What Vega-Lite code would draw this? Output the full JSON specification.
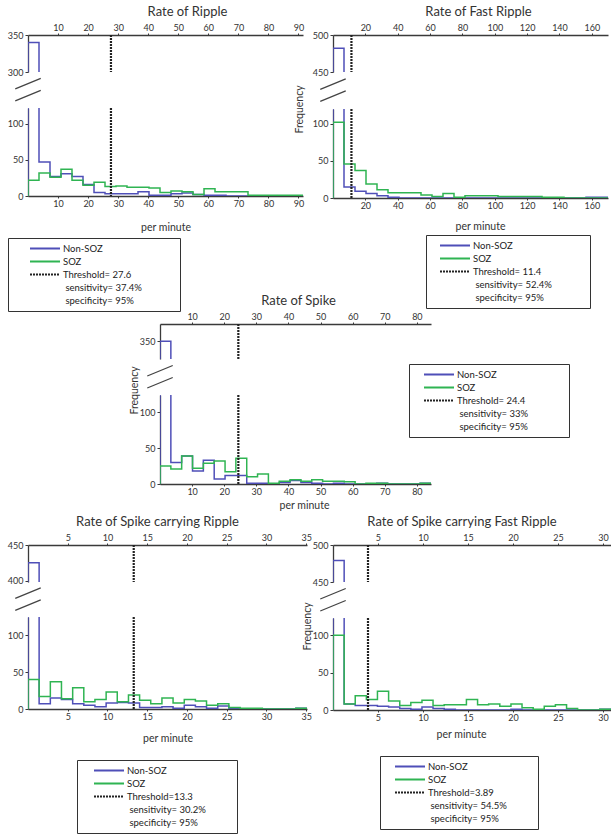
{
"$schema": "https://vega.github.io/schema/vega-lite/v6.json",
"padding": {"left": 7, "top": 6, "right": 0, "bottom": 0},
"config": {
 "view": {"stroke": null},
 "font": "Lato",
 "axis": {"domainColor": "#3a3a3a", "domainWidth": 1.3, "tickColor": "#3a3a3a", "tickSize": 3, "labelFontSize": 9, "labelColor": "#333", "labelPadding": 2, "labelOverlap": false, "labelFlush": false, "titleFontSize": 10.5, "titleFontWeight": "normal", "titleColor": "#333", "grid": false},
 "axisX": {"tickSize": 2, "labelPadding": 1},
 "title": {"fontSize": 13, "fontWeight": "normal", "color": "#333", "offset": 4},
 "legend": {"symbolType": "stroke", "symbolSize": 900, "symbolStrokeWidth": 2, "clipHeight": 13, "rowPadding": 0, "padding": 4, "strokeColor": "#333", "fillColor": "white", "labelFontSize": 9.5, "labelColor": "#222", "labelOffset": 2}
},
"datasets": {
 "A": [
  {"s":"Non-SOZ","x":0,"n":0},{"s":"Non-SOZ","x":0,"n":340},{"s":"Non-SOZ","x":3.66,"n":47},{"s":"Non-SOZ","x":7.32,"n":27},{"s":"Non-SOZ","x":10.98,"n":31},{"s":"Non-SOZ","x":14.64,"n":27},{"s":"Non-SOZ","x":18.3,"n":16},{"s":"Non-SOZ","x":21.96,"n":5},{"s":"Non-SOZ","x":25.62,"n":3},{"s":"Non-SOZ","x":29.28,"n":3},{"s":"Non-SOZ","x":32.94,"n":3},{"s":"Non-SOZ","x":36.6,"n":6},{"s":"Non-SOZ","x":40.26,"n":1},{"s":"Non-SOZ","x":43.92,"n":1},{"s":"Non-SOZ","x":47.58,"n":3},{"s":"Non-SOZ","x":51.24,"n":4},{"s":"Non-SOZ","x":54.9,"n":2},{"s":"Non-SOZ","x":58.56,"n":1},{"s":"Non-SOZ","x":62.22,"n":1},{"s":"Non-SOZ","x":65.88,"n":0},{"s":"Non-SOZ","x":69.54,"n":0},{"s":"Non-SOZ","x":73.2,"n":0},{"s":"Non-SOZ","x":76.86,"n":0},{"s":"Non-SOZ","x":80.52,"n":0},{"s":"Non-SOZ","x":84.18,"n":0},{"s":"Non-SOZ","x":87.84,"n":0},{"s":"Non-SOZ","x":91.5,"n":0},
  {"s":"SOZ","x":0,"n":0},{"s":"SOZ","x":0,"n":22},{"s":"SOZ","x":3.66,"n":32},{"s":"SOZ","x":7.32,"n":26},{"s":"SOZ","x":10.98,"n":37},{"s":"SOZ","x":14.64,"n":22},{"s":"SOZ","x":18.3,"n":15},{"s":"SOZ","x":21.96,"n":19},{"s":"SOZ","x":25.62,"n":13},{"s":"SOZ","x":29.28,"n":14},{"s":"SOZ","x":32.94,"n":12},{"s":"SOZ","x":36.6,"n":12},{"s":"SOZ","x":40.26,"n":11},{"s":"SOZ","x":43.92,"n":5},{"s":"SOZ","x":47.58,"n":7},{"s":"SOZ","x":51.24,"n":6},{"s":"SOZ","x":54.9,"n":2},{"s":"SOZ","x":58.56,"n":10},{"s":"SOZ","x":62.22,"n":6},{"s":"SOZ","x":65.88,"n":6},{"s":"SOZ","x":69.54,"n":6},{"s":"SOZ","x":73.2,"n":1},{"s":"SOZ","x":76.86,"n":1},{"s":"SOZ","x":80.52,"n":1},{"s":"SOZ","x":84.18,"n":1},{"s":"SOZ","x":87.84,"n":1},{"s":"SOZ","x":91.5,"n":1}
 ],
 "B": [
  {"s":"Non-SOZ","x":0,"n":0},{"s":"Non-SOZ","x":0,"n":482},{"s":"Non-SOZ","x":6.8,"n":15},{"s":"Non-SOZ","x":13.6,"n":9},{"s":"Non-SOZ","x":20.4,"n":6},{"s":"Non-SOZ","x":27.2,"n":3},{"s":"Non-SOZ","x":34,"n":1},{"s":"Non-SOZ","x":40.8,"n":0},{"s":"Non-SOZ","x":47.6,"n":0},{"s":"Non-SOZ","x":54.4,"n":0},{"s":"Non-SOZ","x":61.2,"n":0},{"s":"Non-SOZ","x":68,"n":0},{"s":"Non-SOZ","x":74.8,"n":0},{"s":"Non-SOZ","x":81.6,"n":0},{"s":"Non-SOZ","x":88.4,"n":0},{"s":"Non-SOZ","x":95.2,"n":0},{"s":"Non-SOZ","x":102,"n":0},{"s":"Non-SOZ","x":108.8,"n":0},{"s":"Non-SOZ","x":115.6,"n":0},{"s":"Non-SOZ","x":122.4,"n":0},{"s":"Non-SOZ","x":129.2,"n":0},{"s":"Non-SOZ","x":136,"n":0},{"s":"Non-SOZ","x":142.8,"n":0},{"s":"Non-SOZ","x":149.6,"n":0},{"s":"Non-SOZ","x":156.4,"n":1},{"s":"Non-SOZ","x":163.2,"n":1},{"s":"Non-SOZ","x":170,"n":1},
  {"s":"SOZ","x":0,"n":0},{"s":"SOZ","x":0,"n":102},{"s":"SOZ","x":6.8,"n":46},{"s":"SOZ","x":13.6,"n":37},{"s":"SOZ","x":20.4,"n":19},{"s":"SOZ","x":27.2,"n":11},{"s":"SOZ","x":34,"n":7},{"s":"SOZ","x":40.8,"n":7},{"s":"SOZ","x":47.6,"n":7},{"s":"SOZ","x":54.4,"n":4},{"s":"SOZ","x":61.2,"n":2},{"s":"SOZ","x":68,"n":6},{"s":"SOZ","x":74.8,"n":1},{"s":"SOZ","x":81.6,"n":3},{"s":"SOZ","x":88.4,"n":3},{"s":"SOZ","x":95.2,"n":3},{"s":"SOZ","x":102,"n":2},{"s":"SOZ","x":108.8,"n":2},{"s":"SOZ","x":115.6,"n":2},{"s":"SOZ","x":122.4,"n":2},{"s":"SOZ","x":129.2,"n":1},{"s":"SOZ","x":136,"n":1},{"s":"SOZ","x":142.8,"n":0},{"s":"SOZ","x":149.6,"n":0},{"s":"SOZ","x":156.4,"n":0},{"s":"SOZ","x":163.2,"n":0},{"s":"SOZ","x":170,"n":0}
 ],
 "C": [
  {"s":"Non-SOZ","x":0,"n":0},{"s":"Non-SOZ","x":0,"n":350},{"s":"Non-SOZ","x":3.38,"n":30},{"s":"Non-SOZ","x":6.75,"n":39},{"s":"Non-SOZ","x":10.13,"n":18},{"s":"Non-SOZ","x":13.5,"n":33},{"s":"Non-SOZ","x":16.88,"n":7},{"s":"Non-SOZ","x":20.26,"n":12},{"s":"Non-SOZ","x":23.63,"n":12},{"s":"Non-SOZ","x":27.01,"n":1},{"s":"Non-SOZ","x":30.38,"n":1},{"s":"Non-SOZ","x":33.76,"n":0},{"s":"Non-SOZ","x":37.14,"n":2},{"s":"Non-SOZ","x":40.51,"n":5},{"s":"Non-SOZ","x":43.89,"n":2},{"s":"Non-SOZ","x":47.26,"n":1},{"s":"Non-SOZ","x":50.64,"n":0},{"s":"Non-SOZ","x":54.02,"n":1},{"s":"Non-SOZ","x":57.39,"n":0},{"s":"Non-SOZ","x":60.77,"n":0},{"s":"Non-SOZ","x":64.14,"n":0},{"s":"Non-SOZ","x":67.52,"n":1},{"s":"Non-SOZ","x":70.9,"n":0},{"s":"Non-SOZ","x":74.27,"n":0},{"s":"Non-SOZ","x":77.65,"n":0},{"s":"Non-SOZ","x":81.02,"n":1},{"s":"Non-SOZ","x":84.4,"n":1},
  {"s":"SOZ","x":0,"n":0},{"s":"SOZ","x":0,"n":25},{"s":"SOZ","x":3.38,"n":21},{"s":"SOZ","x":6.75,"n":39},{"s":"SOZ","x":10.13,"n":22},{"s":"SOZ","x":13.5,"n":29},{"s":"SOZ","x":16.88,"n":32},{"s":"SOZ","x":20.26,"n":17},{"s":"SOZ","x":23.63,"n":36},{"s":"SOZ","x":27.01,"n":10},{"s":"SOZ","x":30.38,"n":14},{"s":"SOZ","x":33.76,"n":1},{"s":"SOZ","x":37.14,"n":4},{"s":"SOZ","x":40.51,"n":6},{"s":"SOZ","x":43.89,"n":4},{"s":"SOZ","x":47.26,"n":6},{"s":"SOZ","x":50.64,"n":4},{"s":"SOZ","x":54.02,"n":4},{"s":"SOZ","x":57.39,"n":3},{"s":"SOZ","x":60.77,"n":0},{"s":"SOZ","x":64.14,"n":1},{"s":"SOZ","x":67.52,"n":1},{"s":"SOZ","x":70.9,"n":0},{"s":"SOZ","x":74.27,"n":0},{"s":"SOZ","x":77.65,"n":0},{"s":"SOZ","x":81.02,"n":1},{"s":"SOZ","x":84.4,"n":1}
 ],
 "D": [
  {"s":"Non-SOZ","x":0,"n":0},{"s":"Non-SOZ","x":0,"n":425},{"s":"Non-SOZ","x":1.4,"n":7},{"s":"Non-SOZ","x":2.81,"n":15},{"s":"Non-SOZ","x":4.21,"n":13},{"s":"Non-SOZ","x":5.62,"n":7},{"s":"Non-SOZ","x":7.02,"n":5},{"s":"Non-SOZ","x":8.42,"n":3},{"s":"Non-SOZ","x":9.83,"n":8},{"s":"Non-SOZ","x":11.23,"n":9},{"s":"Non-SOZ","x":12.64,"n":8},{"s":"Non-SOZ","x":14.04,"n":2},{"s":"Non-SOZ","x":15.44,"n":2},{"s":"Non-SOZ","x":16.85,"n":3},{"s":"Non-SOZ","x":18.25,"n":1},{"s":"Non-SOZ","x":19.66,"n":5},{"s":"Non-SOZ","x":21.06,"n":3},{"s":"Non-SOZ","x":22.46,"n":1},{"s":"Non-SOZ","x":23.87,"n":4},{"s":"Non-SOZ","x":25.27,"n":1},{"s":"Non-SOZ","x":26.68,"n":0},{"s":"Non-SOZ","x":28.08,"n":0},{"s":"Non-SOZ","x":29.48,"n":0},{"s":"Non-SOZ","x":30.89,"n":0},{"s":"Non-SOZ","x":32.29,"n":0},{"s":"Non-SOZ","x":33.7,"n":1},{"s":"Non-SOZ","x":35.1,"n":1},
  {"s":"SOZ","x":0,"n":0},{"s":"SOZ","x":0,"n":40},{"s":"SOZ","x":1.4,"n":17},{"s":"SOZ","x":2.81,"n":37},{"s":"SOZ","x":4.21,"n":14},{"s":"SOZ","x":5.62,"n":29},{"s":"SOZ","x":7.02,"n":10},{"s":"SOZ","x":8.42,"n":13},{"s":"SOZ","x":9.83,"n":23},{"s":"SOZ","x":11.23,"n":10},{"s":"SOZ","x":12.64,"n":19},{"s":"SOZ","x":14.04,"n":12},{"s":"SOZ","x":15.44,"n":7},{"s":"SOZ","x":16.85,"n":15},{"s":"SOZ","x":18.25,"n":8},{"s":"SOZ","x":19.66,"n":13},{"s":"SOZ","x":21.06,"n":11},{"s":"SOZ","x":22.46,"n":5},{"s":"SOZ","x":23.87,"n":7},{"s":"SOZ","x":25.27,"n":2},{"s":"SOZ","x":26.68,"n":1},{"s":"SOZ","x":28.08,"n":1},{"s":"SOZ","x":29.48,"n":0},{"s":"SOZ","x":30.89,"n":0},{"s":"SOZ","x":32.29,"n":0},{"s":"SOZ","x":33.7,"n":1},{"s":"SOZ","x":35.1,"n":1}
 ],
 "E": [
  {"s":"Non-SOZ","x":0,"n":0},{"s":"Non-SOZ","x":0,"n":479},{"s":"Non-SOZ","x":1.24,"n":8},{"s":"Non-SOZ","x":2.47,"n":6},{"s":"Non-SOZ","x":3.71,"n":6},{"s":"Non-SOZ","x":4.94,"n":5},{"s":"Non-SOZ","x":6.18,"n":4},{"s":"Non-SOZ","x":7.42,"n":2},{"s":"Non-SOZ","x":8.65,"n":1},{"s":"Non-SOZ","x":9.89,"n":4},{"s":"Non-SOZ","x":11.12,"n":2},{"s":"Non-SOZ","x":12.36,"n":1},{"s":"Non-SOZ","x":13.6,"n":0},{"s":"Non-SOZ","x":14.83,"n":0},{"s":"Non-SOZ","x":16.07,"n":0},{"s":"Non-SOZ","x":17.3,"n":0},{"s":"Non-SOZ","x":18.54,"n":0},{"s":"Non-SOZ","x":19.78,"n":1},{"s":"Non-SOZ","x":21.01,"n":0},{"s":"Non-SOZ","x":22.25,"n":0},{"s":"Non-SOZ","x":23.48,"n":0},{"s":"Non-SOZ","x":24.72,"n":0},{"s":"Non-SOZ","x":25.96,"n":0},{"s":"Non-SOZ","x":27.19,"n":0},{"s":"Non-SOZ","x":28.43,"n":0},{"s":"Non-SOZ","x":29.66,"n":1},{"s":"Non-SOZ","x":30.9,"n":1},
  {"s":"SOZ","x":0,"n":0},{"s":"SOZ","x":0,"n":100},{"s":"SOZ","x":1.24,"n":8},{"s":"SOZ","x":2.47,"n":19},{"s":"SOZ","x":3.71,"n":14},{"s":"SOZ","x":4.94,"n":25},{"s":"SOZ","x":6.18,"n":12},{"s":"SOZ","x":7.42,"n":6},{"s":"SOZ","x":8.65,"n":10},{"s":"SOZ","x":9.89,"n":13},{"s":"SOZ","x":11.12,"n":6},{"s":"SOZ","x":12.36,"n":7},{"s":"SOZ","x":13.6,"n":7},{"s":"SOZ","x":14.83,"n":14},{"s":"SOZ","x":16.07,"n":7},{"s":"SOZ","x":17.3,"n":8},{"s":"SOZ","x":18.54,"n":5},{"s":"SOZ","x":19.78,"n":8},{"s":"SOZ","x":21.01,"n":3},{"s":"SOZ","x":22.25,"n":1},{"s":"SOZ","x":23.48,"n":5},{"s":"SOZ","x":24.72,"n":7},{"s":"SOZ","x":25.96,"n":2},{"s":"SOZ","x":27.19,"n":0},{"s":"SOZ","x":28.43,"n":0},{"s":"SOZ","x":29.66,"n":1},{"s":"SOZ","x":30.9,"n":1}
 ]
},
"bounds": "flush",
"spacing": 510,
"resolve": {"scale": {"color": "independent", "strokeDash": "independent"}},
"vconcat": [
 {"bounds": "flush", "spacing": 289,
  "resolve": {"scale": {"color": "independent", "strokeDash": "independent"}},
  "vconcat": [
   {"bounds": "flush", "spacing": 305,
    "resolve": {"scale": {"color": "independent", "strokeDash": "independent"}},
    "hconcat": [
     {"bounds": "flush", "spacing": 36,
      "resolve": {"scale": {"color": "independent", "strokeDash": "independent"}},
      "vconcat": [
       {"width": 275, "height": 37,
        "title": {"text": "Rate of Ripple", "dx": 22},
        "layer": [
         {"data": {"name": "A"}, "mark": {"type": "line", "interpolate": "step-after", "clip": true, "strokeWidth": 1.5},
          "encoding": {
           "x": {"field": "x", "type": "quantitative", "scale": {"domain": [0, 91.5], "nice": false, "zero": false}, "axis": {"orient": "top", "values": [10,20,30,40,50,60,70,80,90], "tickCount": 40, "labelOverlap": false, "title": null}},
           "y": {"field": "n", "type": "quantitative", "scale": {"domain": [300, 350], "nice": false, "zero": false}, "axis": {"values": [300, 350], "tickCount": 10, "title": null}},
           "color": {"field": "s", "type": "nominal", "scale": {"domain": ["Non-SOZ","SOZ","Threshold= 27.6","\u200b\u00a0sensitivity= 37.4%\u00a0\u00a0\u00a0\u00a0\u00a0\u00a0\u00a0\u00a0\u00a0\u00a0\u00a0\u00a0\u00a0\u00a0\u00a0\u00a0\u00a0\u00a0\u00a0\u00a0\u00a0\u00a0\u00a0\u00a0\u00a0\u00a0\u00a0\u00a0\u00a0\u00a0\u00a0\u00a0\u00a0\u00a0\u00a0\u00a0\u00a0\u00a0\u00a0\u00a0\u200b","\u200b\u00a0specificity= 95%"], "range": ["#4f4fb8","#2fb452","#222222","rgba(0,0,0,0)","rgba(0,0,0,0)"]}, "legend": null},
           "strokeDash": {"field": "s", "type": "nominal", "scale": {"domain": ["Non-SOZ","SOZ","Threshold= 27.6","\u200b\u00a0sensitivity= 37.4%\u00a0\u00a0\u00a0\u00a0\u00a0\u00a0\u00a0\u00a0\u00a0\u00a0\u00a0\u00a0\u00a0\u00a0\u00a0\u00a0\u00a0\u00a0\u00a0\u00a0\u00a0\u00a0\u00a0\u00a0\u00a0\u00a0\u00a0\u00a0\u00a0\u00a0\u00a0\u00a0\u00a0\u00a0\u00a0\u00a0\u00a0\u00a0\u00a0\u00a0\u200b","\u200b\u00a0specificity= 95%"], "range": [[1,0],[1,0],[2,1],[1,0],[1,0]]}, "legend": null}
          }},
         {"data": {"values": [{"s": "Threshold= 27.6", "x": 27.6}]}, "mark": {"type": "rule", "strokeWidth": 2.2},
          "encoding": {
           "x": {"field": "x", "type": "quantitative", "scale": {"domain": [0, 91.5], "nice": false, "zero": false}},
           "color": {"field": "s", "type": "nominal"},
           "strokeDash": {"field": "s", "type": "nominal"}
          }}
        ]},
       {"width": 275, "height": 88,
        "layer": [
         {"data": {"name": "A"}, "mark": {"type": "line", "interpolate": "step-after", "clip": true, "strokeWidth": 1.5},
          "encoding": {
           "x": {"field": "x", "type": "quantitative", "scale": {"domain": [0, 91.5], "nice": false, "zero": false}, "axis": {"values": [10,20,30,40,50,60,70,80,90], "tickCount": 40, "labelOverlap": false, "title": "per minute", "titlePadding": 14}},
           "y": {"field": "n", "type": "quantitative", "scale": {"domain": [0, 122], "nice": false, "zero": false}, "axis": {"values": [0, 50, 100], "tickCount": 10, "title": null}},
           "color": {"field": "s", "type": "nominal", "scale": {"domain": ["Non-SOZ","SOZ","Threshold= 27.6","\u200b\u00a0sensitivity= 37.4%\u00a0\u00a0\u00a0\u00a0\u00a0\u00a0\u00a0\u00a0\u00a0\u00a0\u00a0\u00a0\u00a0\u00a0\u00a0\u00a0\u00a0\u00a0\u00a0\u00a0\u00a0\u00a0\u00a0\u00a0\u00a0\u00a0\u00a0\u00a0\u00a0\u00a0\u00a0\u00a0\u00a0\u00a0\u00a0\u00a0\u00a0\u00a0\u00a0\u00a0\u200b","\u200b\u00a0specificity= 95%"], "range": ["#4f4fb8","#2fb452","#222222","rgba(0,0,0,0)","rgba(0,0,0,0)"]}, "legend": {"title": null, "orient": "none", "legendX": -20, "legendY": 130, "symbolOffset": 17, "labelLimit": 114, "encode": {"labels": {"update": {"ellipsis": {"value": "\u00a0"}}}}}},
           "strokeDash": {"field": "s", "type": "nominal", "scale": {"domain": ["Non-SOZ","SOZ","Threshold= 27.6","\u200b\u00a0sensitivity= 37.4%\u00a0\u00a0\u00a0\u00a0\u00a0\u00a0\u00a0\u00a0\u00a0\u00a0\u00a0\u00a0\u00a0\u00a0\u00a0\u00a0\u00a0\u00a0\u00a0\u00a0\u00a0\u00a0\u00a0\u00a0\u00a0\u00a0\u00a0\u00a0\u00a0\u00a0\u00a0\u00a0\u00a0\u00a0\u00a0\u00a0\u00a0\u00a0\u00a0\u00a0\u200b","\u200b\u00a0specificity= 95%"], "range": [[1,0],[1,0],[2,1],[1,0],[1,0]]}, "legend": {"title": null, "orient": "none", "legendX": -20, "legendY": 130, "symbolOffset": 17, "labelLimit": 114, "encode": {"labels": {"update": {"ellipsis": {"value": "\u00a0"}}}}}}
          }},
         {"data": {"values": [{"s": "Threshold= 27.6", "x": 27.6}]}, "mark": {"type": "rule", "strokeWidth": 2.2},
          "encoding": {
           "x": {"field": "x", "type": "quantitative", "scale": {"domain": [0, 91.5], "nice": false, "zero": false}},
           "color": {"field": "s", "type": "nominal"},
           "strokeDash": {"field": "s", "type": "nominal"}
          }},
         {"data": {"values": [{}]}, "mark": {"type": "point", "shape": "M-0.85,-0.07L0.85,-0.77M-0.85,0.73L0.85,0.03", "size": 900, "filled": false, "stroke": "#444", "strokeWidth": 1.3, "opacity": 1},
          "encoding": {"x": {"datum": 0}, "y": {"datum": 147}}}
        ]}
      ]},
     {"bounds": "flush", "spacing": 37,
      "resolve": {"scale": {"color": "independent", "strokeDash": "independent"}},
      "vconcat": [
       {"width": 275, "height": 37,
        "title": {"text": "Rate of Fast Ripple", "dx": 8},
        "layer": [
         {"data": {"name": "B"}, "mark": {"type": "line", "interpolate": "step-after", "clip": true, "strokeWidth": 1.5},
          "encoding": {
           "x": {"field": "x", "type": "quantitative", "scale": {"domain": [0, 170], "nice": false, "zero": false}, "axis": {"orient": "top", "values": [20,40,60,80,100,120,140,160], "tickCount": 40, "labelOverlap": false, "title": null}},
           "y": {"field": "n", "type": "quantitative", "scale": {"domain": [450, 500], "nice": false, "zero": false}, "axis": {"values": [450, 500], "tickCount": 10, "title": null}},
           "color": {"field": "s", "type": "nominal", "scale": {"domain": ["Non-SOZ","SOZ","Threshold= 11.4","\u200b\u00a0sensitivity= 52.4%\u00a0\u00a0\u00a0\u00a0\u00a0\u00a0\u00a0\u00a0\u00a0\u00a0\u00a0\u00a0\u00a0\u00a0\u00a0\u00a0\u00a0\u00a0\u00a0\u00a0\u00a0\u00a0\u00a0\u00a0\u00a0\u00a0\u00a0\u00a0\u00a0\u00a0\u00a0\u00a0\u00a0\u00a0\u00a0\u00a0\u00a0\u00a0\u00a0\u00a0\u200b","\u200b\u00a0specificity= 95%"], "range": ["#4f4fb8","#2fb452","#222222","rgba(0,0,0,0)","rgba(0,0,0,0)"]}, "legend": null},
           "strokeDash": {"field": "s", "type": "nominal", "scale": {"domain": ["Non-SOZ","SOZ","Threshold= 11.4","\u200b\u00a0sensitivity= 52.4%\u00a0\u00a0\u00a0\u00a0\u00a0\u00a0\u00a0\u00a0\u00a0\u00a0\u00a0\u00a0\u00a0\u00a0\u00a0\u00a0\u00a0\u00a0\u00a0\u00a0\u00a0\u00a0\u00a0\u00a0\u00a0\u00a0\u00a0\u00a0\u00a0\u00a0\u00a0\u00a0\u00a0\u00a0\u00a0\u00a0\u00a0\u00a0\u00a0\u00a0\u200b","\u200b\u00a0specificity= 95%"], "range": [[1,0],[1,0],[2,1],[1,0],[1,0]]}, "legend": null}
          }},
         {"data": {"values": [{"s": "Threshold= 11.4", "x": 11.4}]}, "mark": {"type": "rule", "strokeWidth": 2.2},
          "encoding": {
           "x": {"field": "x", "type": "quantitative", "scale": {"domain": [0, 170], "nice": false, "zero": false}},
           "color": {"field": "s", "type": "nominal"},
           "strokeDash": {"field": "s", "type": "nominal"}
          }}
        ]},
       {"width": 275, "height": 89,
        "layer": [
         {"data": {"name": "B"}, "mark": {"type": "line", "interpolate": "step-after", "clip": true, "strokeWidth": 1.5},
          "encoding": {
           "x": {"field": "x", "type": "quantitative", "scale": {"domain": [0, 170], "nice": false, "zero": false}, "axis": {"values": [20,40,60,80,100,120,140,160], "tickCount": 40, "labelOverlap": false, "title": "per minute", "titlePadding": 11, "titleX": 147}},
           "y": {"field": "n", "type": "quantitative", "scale": {"domain": [0, 120], "nice": false, "zero": false}, "axis": {"values": [0, 50, 100], "tickCount": 10, "title": "Frequency", "titleX": -34, "titleY": 0, "titleBaseline": "middle"}},
           "color": {"field": "s", "type": "nominal", "scale": {"domain": ["Non-SOZ","SOZ","Threshold= 11.4","\u200b\u00a0sensitivity= 52.4%\u00a0\u00a0\u00a0\u00a0\u00a0\u00a0\u00a0\u00a0\u00a0\u00a0\u00a0\u00a0\u00a0\u00a0\u00a0\u00a0\u00a0\u00a0\u00a0\u00a0\u00a0\u00a0\u00a0\u00a0\u00a0\u00a0\u00a0\u00a0\u00a0\u00a0\u00a0\u00a0\u00a0\u00a0\u00a0\u00a0\u00a0\u00a0\u00a0\u00a0\u200b","\u200b\u00a0specificity= 95%"], "range": ["#4f4fb8","#2fb452","#222222","rgba(0,0,0,0)","rgba(0,0,0,0)"]}, "legend": {"title": null, "orient": "none", "legendX": 93, "legendY": 126, "symbolOffset": 9, "labelLimit": 114, "encode": {"labels": {"update": {"ellipsis": {"value": "\u00a0"}}}}}},
           "strokeDash": {"field": "s", "type": "nominal", "scale": {"domain": ["Non-SOZ","SOZ","Threshold= 11.4","\u200b\u00a0sensitivity= 52.4%\u00a0\u00a0\u00a0\u00a0\u00a0\u00a0\u00a0\u00a0\u00a0\u00a0\u00a0\u00a0\u00a0\u00a0\u00a0\u00a0\u00a0\u00a0\u00a0\u00a0\u00a0\u00a0\u00a0\u00a0\u00a0\u00a0\u00a0\u00a0\u00a0\u00a0\u00a0\u00a0\u00a0\u00a0\u00a0\u00a0\u00a0\u00a0\u00a0\u00a0\u200b","\u200b\u00a0specificity= 95%"], "range": [[1,0],[1,0],[2,1],[1,0],[1,0]]}, "legend": {"title": null, "orient": "none", "legendX": 93, "legendY": 126, "symbolOffset": 9, "labelLimit": 114, "encode": {"labels": {"update": {"ellipsis": {"value": "\u00a0"}}}}}}
          }},
         {"data": {"values": [{"s": "Threshold= 11.4", "x": 11.4}]}, "mark": {"type": "rule", "strokeWidth": 2.2},
          "encoding": {
           "x": {"field": "x", "type": "quantitative", "scale": {"domain": [0, 170], "nice": false, "zero": false}},
           "color": {"field": "s", "type": "nominal"},
           "strokeDash": {"field": "s", "type": "nominal"}
          }},
         {"data": {"values": [{}]}, "mark": {"type": "point", "shape": "M-0.85,-0.07L0.85,-0.77M-0.85,0.73L0.85,0.03", "size": 900, "filled": false, "stroke": "#444", "strokeWidth": 1.3, "opacity": 1},
          "encoding": {"x": {"datum": 0}, "y": {"datum": 145}}}
        ]}
      ]}
    ]},
   {"bounds": "flush", "spacing": 10,
    "resolve": {"scale": {"color": "independent", "strokeDash": "independent"}},
    "hconcat": [
     {"width": 122, "height": 10, "data": {"values": [{}]}, "mark": {"type": "text"}, "encoding": {"text": {"value": ""}}},
     {"bounds": "flush", "spacing": 36,
      "resolve": {"scale": {"color": "independent", "strokeDash": "independent"}},
      "vconcat": [
       {"width": 271, "height": 35,
        "title": {"text": "Rate of Spike", "dx": 3},
        "layer": [
         {"data": {"name": "C"}, "mark": {"type": "line", "interpolate": "step-after", "clip": true, "strokeWidth": 1.5},
          "encoding": {
           "x": {"field": "x", "type": "quantitative", "scale": {"domain": [0, 84.4], "nice": false, "zero": false}, "axis": {"orient": "top", "values": [10,20,30,40,50,60,70,80], "tickCount": 40, "labelOverlap": false, "title": null}},
           "y": {"field": "n", "type": "quantitative", "scale": {"domain": [325, 374], "nice": false, "zero": false}, "axis": {"values": [350], "tickCount": 10, "title": null}},
           "color": {"field": "s", "type": "nominal", "scale": {"domain": ["Non-SOZ","SOZ","Threshold= 24.4","\u200b\u00a0sensitivity= 33%\u00a0\u00a0\u00a0\u00a0\u00a0\u00a0\u00a0\u00a0\u00a0\u00a0\u00a0\u00a0\u00a0\u00a0\u00a0\u00a0\u00a0\u00a0\u00a0\u00a0\u00a0\u00a0\u00a0\u00a0\u00a0\u00a0\u00a0\u00a0\u00a0\u00a0\u00a0\u00a0\u00a0\u00a0\u00a0\u00a0\u00a0\u00a0\u00a0\u00a0\u200b","\u200b\u00a0specificity= 95%"], "range": ["#4f4fb8","#2fb452","#222222","rgba(0,0,0,0)","rgba(0,0,0,0)"]}, "legend": null},
           "strokeDash": {"field": "s", "type": "nominal", "scale": {"domain": ["Non-SOZ","SOZ","Threshold= 24.4","\u200b\u00a0sensitivity= 33%\u00a0\u00a0\u00a0\u00a0\u00a0\u00a0\u00a0\u00a0\u00a0\u00a0\u00a0\u00a0\u00a0\u00a0\u00a0\u00a0\u00a0\u00a0\u00a0\u00a0\u00a0\u00a0\u00a0\u00a0\u00a0\u00a0\u00a0\u00a0\u00a0\u00a0\u00a0\u00a0\u00a0\u00a0\u00a0\u00a0\u00a0\u00a0\u00a0\u00a0\u200b","\u200b\u00a0specificity= 95%"], "range": [[1,0],[1,0],[2,1],[1,0],[1,0]]}, "legend": null}
          }},
         {"data": {"values": [{"s": "Threshold= 24.4", "x": 24.4}]}, "mark": {"type": "rule", "strokeWidth": 2.2},
          "encoding": {
           "x": {"field": "x", "type": "quantitative", "scale": {"domain": [0, 84.4], "nice": false, "zero": false}},
           "color": {"field": "s", "type": "nominal"},
           "strokeDash": {"field": "s", "type": "nominal"}
          }}
        ]},
       {"width": 271, "height": 89,
        "layer": [
         {"data": {"name": "C"}, "mark": {"type": "line", "interpolate": "step-after", "clip": true, "strokeWidth": 1.5},
          "encoding": {
           "x": {"field": "x", "type": "quantitative", "scale": {"domain": [0, 84.4], "nice": false, "zero": false}, "axis": {"values": [10,20,30,40,50,60,70,80], "tickCount": 40, "labelOverlap": false, "title": "per minute", "titlePadding": 4, "titleX": 144}},
           "y": {"field": "n", "type": "quantitative", "scale": {"domain": [0, 124], "nice": false, "zero": false}, "axis": {"values": [0, 50, 100], "tickCount": 10, "title": "Frequency", "titleX": -26, "titleY": -5, "titleBaseline": "middle"}},
           "color": {"field": "s", "type": "nominal", "scale": {"domain": ["Non-SOZ","SOZ","Threshold= 24.4","\u200b\u00a0sensitivity= 33%\u00a0\u00a0\u00a0\u00a0\u00a0\u00a0\u00a0\u00a0\u00a0\u00a0\u00a0\u00a0\u00a0\u00a0\u00a0\u00a0\u00a0\u00a0\u00a0\u00a0\u00a0\u00a0\u00a0\u00a0\u00a0\u00a0\u00a0\u00a0\u00a0\u00a0\u00a0\u00a0\u00a0\u00a0\u00a0\u00a0\u00a0\u00a0\u00a0\u00a0\u200b","\u200b\u00a0specificity= 95%"], "range": ["#4f4fb8","#2fb452","#222222","rgba(0,0,0,0)","rgba(0,0,0,0)"]}, "legend": {"title": null, "orient": "none", "legendX": 249, "legendY": -31, "symbolOffset": 10, "labelLimit": 108, "encode": {"labels": {"update": {"ellipsis": {"value": "\u00a0"}}}}}},
           "strokeDash": {"field": "s", "type": "nominal", "scale": {"domain": ["Non-SOZ","SOZ","Threshold= 24.4","\u200b\u00a0sensitivity= 33%\u00a0\u00a0\u00a0\u00a0\u00a0\u00a0\u00a0\u00a0\u00a0\u00a0\u00a0\u00a0\u00a0\u00a0\u00a0\u00a0\u00a0\u00a0\u00a0\u00a0\u00a0\u00a0\u00a0\u00a0\u00a0\u00a0\u00a0\u00a0\u00a0\u00a0\u00a0\u00a0\u00a0\u00a0\u00a0\u00a0\u00a0\u00a0\u00a0\u00a0\u200b","\u200b\u00a0specificity= 95%"], "range": [[1,0],[1,0],[2,1],[1,0],[1,0]]}, "legend": {"title": null, "orient": "none", "legendX": 249, "legendY": -31, "symbolOffset": 10, "labelLimit": 108, "encode": {"labels": {"update": {"ellipsis": {"value": "\u00a0"}}}}}}
          }},
         {"data": {"values": [{"s": "Threshold= 24.4", "x": 24.4}]}, "mark": {"type": "rule", "strokeWidth": 2.2},
          "encoding": {
           "x": {"field": "x", "type": "quantitative", "scale": {"domain": [0, 84.4], "nice": false, "zero": false}},
           "color": {"field": "s", "type": "nominal"},
           "strokeDash": {"field": "s", "type": "nominal"}
          }},
         {"data": {"values": [{}]}, "mark": {"type": "point", "shape": "M-0.85,-0.07L0.85,-0.77M-0.85,0.73L0.85,0.03", "size": 900, "filled": false, "stroke": "#444", "strokeWidth": 1.3, "opacity": 1},
          "encoding": {"x": {"datum": 0}, "y": {"datum": 149}}}
        ]}
      ]}
    ]}
  ]},
 {"bounds": "flush", "spacing": 305,
  "resolve": {"scale": {"color": "independent", "strokeDash": "independent"}},
  "hconcat": [
   {"bounds": "flush", "spacing": 35,
    "resolve": {"scale": {"color": "independent", "strokeDash": "independent"}},
    "vconcat": [
     {"width": 279, "height": 37,
      "title": {"text": "Rate of Spike carrying Ripple", "dx": -10},
      "layer": [
       {"data": {"name": "D"}, "mark": {"type": "line", "interpolate": "step-after", "clip": true, "strokeWidth": 1.5},
        "encoding": {
         "x": {"field": "x", "type": "quantitative", "scale": {"domain": [0, 35.1], "nice": false, "zero": false}, "axis": {"orient": "top", "values": [5,10,15,20,25,30,35], "tickCount": 40, "labelOverlap": false, "title": null}},
         "y": {"field": "n", "type": "quantitative", "scale": {"domain": [398, 450], "nice": false, "zero": false}, "axis": {"values": [400, 450], "tickCount": 10, "title": null}},
         "color": {"field": "s", "type": "nominal", "scale": {"domain": ["Non-SOZ","SOZ","Threshold=13.3","\u200b\u00a0sensitivity= 30.2%\u00a0\u00a0\u00a0\u00a0\u00a0\u00a0\u00a0\u00a0\u00a0\u00a0\u00a0\u00a0\u00a0\u00a0\u00a0\u00a0\u00a0\u00a0\u00a0\u00a0\u00a0\u00a0\u00a0\u00a0\u00a0\u00a0\u00a0\u00a0\u00a0\u00a0\u00a0\u00a0\u00a0\u00a0\u00a0\u00a0\u00a0\u00a0\u00a0\u00a0\u200b","\u200b\u00a0specificity= 95%"], "range": ["#4f4fb8","#2fb452","#222222","rgba(0,0,0,0)","rgba(0,0,0,0)"]}, "legend": null},
         "strokeDash": {"field": "s", "type": "nominal", "scale": {"domain": ["Non-SOZ","SOZ","Threshold=13.3","\u200b\u00a0sensitivity= 30.2%\u00a0\u00a0\u00a0\u00a0\u00a0\u00a0\u00a0\u00a0\u00a0\u00a0\u00a0\u00a0\u00a0\u00a0\u00a0\u00a0\u00a0\u00a0\u00a0\u00a0\u00a0\u00a0\u00a0\u00a0\u00a0\u00a0\u00a0\u00a0\u00a0\u00a0\u00a0\u00a0\u00a0\u00a0\u00a0\u00a0\u00a0\u00a0\u00a0\u00a0\u200b","\u200b\u00a0specificity= 95%"], "range": [[1,0],[1,0],[2,1],[1,0],[1,0]]}, "legend": null}
        }},
       {"data": {"values": [{"s": "Threshold=13.3", "x": 13.3}]}, "mark": {"type": "rule", "strokeWidth": 2.2},
        "encoding": {
         "x": {"field": "x", "type": "quantitative", "scale": {"domain": [0, 35.1], "nice": false, "zero": false}},
         "color": {"field": "s", "type": "nominal"},
         "strokeDash": {"field": "s", "type": "nominal"}
        }}
      ]},
     {"width": 279, "height": 92,
      "layer": [
       {"data": {"name": "D"}, "mark": {"type": "line", "interpolate": "step-after", "clip": true, "strokeWidth": 1.5},
        "encoding": {
         "x": {"field": "x", "type": "quantitative", "scale": {"domain": [0, 35.1], "nice": false, "zero": false}, "axis": {"values": [5,10,15,20,25,30,35], "tickCount": 40, "labelOverlap": false, "title": "per minute", "titlePadding": 12}},
         "y": {"field": "n", "type": "quantitative", "scale": {"domain": [0, 125], "nice": false, "zero": false}, "axis": {"values": [0, 50, 100], "tickCount": 10, "title": null}},
         "color": {"field": "s", "type": "nominal", "scale": {"domain": ["Non-SOZ","SOZ","Threshold=13.3","\u200b\u00a0sensitivity= 30.2%\u00a0\u00a0\u00a0\u00a0\u00a0\u00a0\u00a0\u00a0\u00a0\u00a0\u00a0\u00a0\u00a0\u00a0\u00a0\u00a0\u00a0\u00a0\u00a0\u00a0\u00a0\u00a0\u00a0\u00a0\u00a0\u00a0\u00a0\u00a0\u00a0\u00a0\u00a0\u00a0\u00a0\u00a0\u00a0\u00a0\u00a0\u00a0\u00a0\u00a0\u200b","\u200b\u00a0specificity= 95%"], "range": ["#4f4fb8","#2fb452","#222222","rgba(0,0,0,0)","rgba(0,0,0,0)"]}, "legend": {"title": null, "orient": "none", "legendX": 49, "legendY": 143, "symbolOffset": 12, "labelLimit": 108, "encode": {"labels": {"update": {"ellipsis": {"value": "\u00a0"}}}}}},
         "strokeDash": {"field": "s", "type": "nominal", "scale": {"domain": ["Non-SOZ","SOZ","Threshold=13.3","\u200b\u00a0sensitivity= 30.2%\u00a0\u00a0\u00a0\u00a0\u00a0\u00a0\u00a0\u00a0\u00a0\u00a0\u00a0\u00a0\u00a0\u00a0\u00a0\u00a0\u00a0\u00a0\u00a0\u00a0\u00a0\u00a0\u00a0\u00a0\u00a0\u00a0\u00a0\u00a0\u00a0\u00a0\u00a0\u00a0\u00a0\u00a0\u00a0\u00a0\u00a0\u00a0\u00a0\u00a0\u200b","\u200b\u00a0specificity= 95%"], "range": [[1,0],[1,0],[2,1],[1,0],[1,0]]}, "legend": {"title": null, "orient": "none", "legendX": 49, "legendY": 143, "symbolOffset": 12, "labelLimit": 108, "encode": {"labels": {"update": {"ellipsis": {"value": "\u00a0"}}}}}}
        }},
       {"data": {"values": [{"s": "Threshold=13.3", "x": 13.3}]}, "mark": {"type": "rule", "strokeWidth": 2.2},
        "encoding": {
         "x": {"field": "x", "type": "quantitative", "scale": {"domain": [0, 35.1], "nice": false, "zero": false}},
         "color": {"field": "s", "type": "nominal"},
         "strokeDash": {"field": "s", "type": "nominal"}
        }},
       {"data": {"values": [{}]}, "mark": {"type": "point", "shape": "M-0.85,-0.07L0.85,-0.77M-0.85,0.73L0.85,0.03", "size": 900, "filled": false, "stroke": "#444", "strokeWidth": 1.3, "opacity": 1},
        "encoding": {"x": {"datum": 0}, "y": {"datum": 149}}}
      ]}
    ]},
   {"bounds": "flush", "spacing": 36,
    "resolve": {"scale": {"color": "independent", "strokeDash": "independent"}},
    "vconcat": [
     {"width": 278, "height": 37,
      "title": {"text": "Rate of Spike carrying Fast Ripple", "dx": -10},
      "layer": [
       {"data": {"name": "E"}, "mark": {"type": "line", "interpolate": "step-after", "clip": true, "strokeWidth": 1.5},
        "encoding": {
         "x": {"field": "x", "type": "quantitative", "scale": {"domain": [0, 30.9], "nice": false, "zero": false}, "axis": {"orient": "top", "values": [5,10,15,20,25,30], "tickCount": 40, "labelOverlap": false, "title": null}},
         "y": {"field": "n", "type": "quantitative", "scale": {"domain": [450, 500], "nice": false, "zero": false}, "axis": {"values": [450, 500], "tickCount": 10, "title": null}},
         "color": {"field": "s", "type": "nominal", "scale": {"domain": ["Non-SOZ","SOZ","Threshold=3.89","\u200b\u00a0sensitivity= 54.5%\u00a0\u00a0\u00a0\u00a0\u00a0\u00a0\u00a0\u00a0\u00a0\u00a0\u00a0\u00a0\u00a0\u00a0\u00a0\u00a0\u00a0\u00a0\u00a0\u00a0\u00a0\u00a0\u00a0\u00a0\u00a0\u00a0\u00a0\u00a0\u00a0\u00a0\u00a0\u00a0\u00a0\u00a0\u00a0\u00a0\u00a0\u00a0\u00a0\u00a0\u200b","\u200b\u00a0specificity= 95%"], "range": ["#4f4fb8","#2fb452","#222222","rgba(0,0,0,0)","rgba(0,0,0,0)"]}, "legend": null},
         "strokeDash": {"field": "s", "type": "nominal", "scale": {"domain": ["Non-SOZ","SOZ","Threshold=3.89","\u200b\u00a0sensitivity= 54.5%\u00a0\u00a0\u00a0\u00a0\u00a0\u00a0\u00a0\u00a0\u00a0\u00a0\u00a0\u00a0\u00a0\u00a0\u00a0\u00a0\u00a0\u00a0\u00a0\u00a0\u00a0\u00a0\u00a0\u00a0\u00a0\u00a0\u00a0\u00a0\u00a0\u00a0\u00a0\u00a0\u00a0\u00a0\u00a0\u00a0\u00a0\u00a0\u00a0\u00a0\u200b","\u200b\u00a0specificity= 95%"], "range": [[1,0],[1,0],[2,1],[1,0],[1,0]]}, "legend": null}
        }},
       {"data": {"values": [{"s": "Threshold=3.89", "x": 3.89}]}, "mark": {"type": "rule", "strokeWidth": 2.2},
        "encoding": {
         "x": {"field": "x", "type": "quantitative", "scale": {"domain": [0, 30.9], "nice": false, "zero": false}},
         "color": {"field": "s", "type": "nominal"},
         "strokeDash": {"field": "s", "type": "nominal"}
        }}
      ]},
     {"width": 278, "height": 92,
      "layer": [
       {"data": {"name": "E"}, "mark": {"type": "line", "interpolate": "step-after", "clip": true, "strokeWidth": 1.5},
        "encoding": {
         "x": {"field": "x", "type": "quantitative", "scale": {"domain": [0, 30.9], "nice": false, "zero": false}, "axis": {"values": [5,10,15,20,25,30], "tickCount": 40, "labelOverlap": false, "title": "per minute", "titlePadding": 7, "titleX": 128}},
         "y": {"field": "n", "type": "quantitative", "scale": {"domain": [0, 123], "nice": false, "zero": false}, "axis": {"values": [0, 50, 100], "tickCount": 10, "title": "Frequency", "titleX": -26, "titleY": 8, "titleBaseline": "middle"}},
         "color": {"field": "s", "type": "nominal", "scale": {"domain": ["Non-SOZ","SOZ","Threshold=3.89","\u200b\u00a0sensitivity= 54.5%\u00a0\u00a0\u00a0\u00a0\u00a0\u00a0\u00a0\u00a0\u00a0\u00a0\u00a0\u00a0\u00a0\u00a0\u00a0\u00a0\u00a0\u00a0\u00a0\u00a0\u00a0\u00a0\u00a0\u00a0\u00a0\u00a0\u00a0\u00a0\u00a0\u00a0\u00a0\u00a0\u00a0\u00a0\u00a0\u00a0\u00a0\u00a0\u00a0\u00a0\u200b","\u200b\u00a0specificity= 95%"], "range": ["#4f4fb8","#2fb452","#222222","rgba(0,0,0,0)","rgba(0,0,0,0)"]}, "legend": {"title": null, "orient": "none", "legendX": 47, "legendY": 138, "symbolOffset": 10, "labelLimit": 107, "encode": {"labels": {"update": {"ellipsis": {"value": "\u00a0"}}}}}},
         "strokeDash": {"field": "s", "type": "nominal", "scale": {"domain": ["Non-SOZ","SOZ","Threshold=3.89","\u200b\u00a0sensitivity= 54.5%\u00a0\u00a0\u00a0\u00a0\u00a0\u00a0\u00a0\u00a0\u00a0\u00a0\u00a0\u00a0\u00a0\u00a0\u00a0\u00a0\u00a0\u00a0\u00a0\u00a0\u00a0\u00a0\u00a0\u00a0\u00a0\u00a0\u00a0\u00a0\u00a0\u00a0\u00a0\u00a0\u00a0\u00a0\u00a0\u00a0\u00a0\u00a0\u00a0\u00a0\u200b","\u200b\u00a0specificity= 95%"], "range": [[1,0],[1,0],[2,1],[1,0],[1,0]]}, "legend": {"title": null, "orient": "none", "legendX": 47, "legendY": 138, "symbolOffset": 10, "labelLimit": 107, "encode": {"labels": {"update": {"ellipsis": {"value": "\u00a0"}}}}}}
        }},
       {"data": {"values": [{"s": "Threshold=3.89", "x": 3.89}]}, "mark": {"type": "rule", "strokeWidth": 2.2},
        "encoding": {
         "x": {"field": "x", "type": "quantitative", "scale": {"domain": [0, 30.9], "nice": false, "zero": false}},
         "color": {"field": "s", "type": "nominal"},
         "strokeDash": {"field": "s", "type": "nominal"}
        }},
       {"data": {"values": [{}]}, "mark": {"type": "point", "shape": "M-0.85,-0.07L0.85,-0.77M-0.85,0.73L0.85,0.03", "size": 900, "filled": false, "stroke": "#444", "strokeWidth": 1.3, "opacity": 1},
        "encoding": {"x": {"datum": 0}, "y": {"datum": 147}}}
      ]}
    ]}
  ]}
]
}
